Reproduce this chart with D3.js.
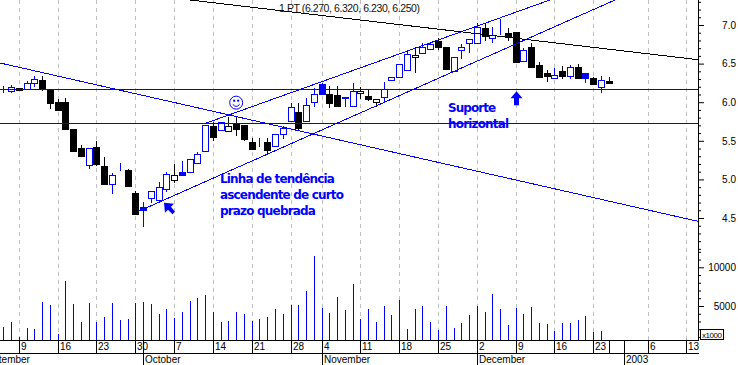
<!DOCTYPE html>
<html>
<head>
<meta charset="utf-8">
<script src="https://cdnjs.cloudflare.com/ajax/libs/d3/7.8.5/d3.min.js"></script>
<style>
  html, body { margin: 0; padding: 0; background: #fff; }
  svg { display: block; font-family: "Liberation Sans", Arial, sans-serif; }
  .note { font-family: "DejaVu Sans", sans-serif; font-weight: bold; font-size: 12px; fill: #0000ff; }
</style>
</head>
<body>
<div id="chart"></div>
<script>
var width = 738, height = 365;

// one entry per trading day
var opens = [6.193,6.149,6.180,6.167,6.245,6.288,6.158,6.003,6.003,5.653,5.403,5.178,5.420,5.174,4.937,5.122,5.122,4.820,4.643,4.755,
  4.724,4.872,4.989,5.096,5.105,5.222,5.364,5.692,5.649,5.631,5.735,5.705,5.485,5.450,5.485,5.424,5.588,5.748,5.873,5.748,
  5.994,6.236,6.106,6.090,6.071,5.960,6.110,6.080,5.994,6.064,6.279,6.323,6.408,6.582,6.641,6.693,6.793,6.711,6.400,6.667,
  6.763,6.763,6.961,6.841,6.875,6.893,6.906,6.530,6.711,6.486,6.375,6.305,6.400,6.340,6.452,6.375,6.310,6.193,6.270];
var highs = [6.210,6.223,6.184,6.279,6.340,6.340,6.167,6.038,6.059,5.653,5.446,5.403,5.498,5.286,5.087,5.209,5.131,4.850,4.711,4.846,
  4.970,5.100,5.200,5.239,5.268,5.359,5.701,5.748,5.748,5.805,5.805,5.705,5.533,5.533,5.533,5.584,5.692,5.986,5.994,6.059,
  6.180,6.253,6.210,6.210,6.071,6.245,6.193,6.158,6.038,6.258,6.323,6.495,6.676,6.719,6.763,6.784,6.828,6.711,6.582,6.754,
  6.815,7.022,7.022,6.978,7.074,6.957,6.906,6.698,6.763,6.517,6.417,6.439,6.469,6.478,6.495,6.375,6.331,6.340,6.320];
var lows = [6.123,6.115,6.145,6.167,6.201,6.149,5.912,5.899,5.640,5.372,5.303,5.135,5.178,4.941,4.811,5.109,4.902,4.543,4.388,4.698,
  4.724,4.841,4.954,5.057,5.105,5.200,5.364,5.501,5.649,5.631,5.562,5.501,5.398,5.416,5.316,5.424,5.527,5.748,5.631,5.748,
  5.942,6.110,5.929,5.951,5.942,5.960,6.046,6.020,5.942,5.994,6.279,6.323,6.408,6.382,6.634,6.676,6.676,6.426,6.400,6.556,
  6.634,6.763,6.797,6.763,6.871,6.789,6.512,6.530,6.447,6.331,6.266,6.297,6.305,6.305,6.305,6.253,6.227,6.123,6.230];
var closes = [6.193,6.201,6.154,6.245,6.297,6.171,5.994,5.899,5.649,5.372,5.303,5.403,5.200,4.941,5.057,5.122,4.915,4.543,4.604,4.846,
  4.898,5.066,5.053,5.057,5.268,5.333,5.701,5.553,5.748,5.696,5.653,5.527,5.398,5.450,5.381,5.584,5.662,5.934,5.666,5.960,
  6.103,6.110,5.986,5.951,6.055,6.149,6.141,6.046,6.038,6.167,6.323,6.495,6.621,6.612,6.719,6.754,6.711,6.426,6.582,6.711,
  6.815,6.970,6.858,6.875,6.875,6.836,6.521,6.676,6.447,6.331,6.331,6.349,6.340,6.460,6.305,6.314,6.227,6.284,6.250];
var volumes = [2290,2930,990,2160,2030,5520,5130,1380,8230,5260,2930,5390,2930,3580,5390,3190,3320,5390,5520,5260,
  3970,4610,3450,4220,5650,6030,6420,4220,2930,3060,4220,3970,3060,3320,3580,4610,3970,5130,5130,6940,
  11460,4740,4100,6160,4480,7840,3320,4610,2930,5000,3840,5780,2030,4610,5000,2930,1900,5000,2160,2800,
  3840,5000,4220,6550,4610,2540,4740,3970,4870,2800,2670,1770,2800,2800,3190,3710,1680,1770];

// days drawn in the other colour combinations
var hollowBlack = [22,29,46,48,53];
var solidBlue = [0,15,18,23,33,41,44,64,75];

var weekDays = [2,7,12,17,22,27,32,37,41,46,51,56,61,66,71,76,78,83,88];
var weekLabels = ["9","16","23","30","7","14","21","28","4","11","18","25","2","9","16","23","","6","13"];
var monthDays = [-3.1,18,41,61,80];
var monthLabels = ["September","October","November","December","2003"];

var priceMajor = [4.5,5,5.5,6,6.5,7];
var priceMinor = [4.1,4.2,4.3,4.4,4.6,4.7,4.8,4.9,5.1,5.2,5.3,5.4,5.6,5.7,5.8,5.9,6.1,6.2,6.3,6.4,6.6,6.7,6.8,6.9,7.1,7.2,7.3];
var volumeMajor = [5000,10000];
var volumeMinor = [1000,2000,3000,4000,6000,7000,8000,9000,11000,12000];

var supportLevels = [6.167,5.734];
var lastDay = 89.49, firstDay = -0.425;
var blueTrends = [
  [[firstDay,6.508],[lastDay,4.457]],
  [[25.98,5.724],[70.42,7.324]],
  [[17.22,4.578],[78.8,7.324]]
];
var blackTrend = [[24.05,7.324],[lastDay,6.551]];

var title = "1 PT (6.270, 6.320, 6.230, 6.250)";
var notes = [
  {text: "Linha de tendência", day: 27.91, price: 4.95, len: 115},
  {text: "ascendente de curto", day: 27.91, price: 4.743, len: 124},
  {text: "prazo quebrada", day: 27.91, price: 4.536, len: 96},
  {text: "Suporte", day: 57.3, price: 5.877, len: 48},
  {text: "horizontal", day: 57.3, price: 5.662, len: 61}
];

var x = d3.scaleLinear().domain([0,88]).range([3.3,686.4]);
var y = d3.scaleLinear().domain([4.5,7]).range([218,25]);
var yVol = d3.scaleLinear().domain([5000,10000]).range([306,267.3]);

var axisX = Math.round(x(lastDay));
var baseY = 340, midY = 353;
var blue = "#0000ff";

var svg = d3.select("#chart").append("svg")
    .attr("width", width)
    .attr("height", height);

// dashed week lines
svg.selectAll(".grid")
    .data(weekDays.filter(function(d) { return d != 78; }))
    .enter().append("line")
    .attr("x1", function(d) { return Math.round(x(d)) + .5; })
    .attr("x2", function(d) { return Math.round(x(d)) + .5; })
    .attr("y1", 0)
    .attr("y2", baseY)
    .attr("stroke", "#c0c0c0")
    .attr("stroke-dasharray", "4,4")
    .attr("shape-rendering", "crispEdges");

// volume
svg.selectAll(".vol")
    .data(volumes)
    .enter().append("line")
    .attr("x1", function(d, i) { return Math.round(x(i)) + .5; })
    .attr("x2", function(d, i) { return Math.round(x(i)) + .5; })
    .attr("y1", baseY)
    .attr("y2", function(d) { return yVol(d); })
    .attr("stroke", blue)
    .attr("shape-rendering", "crispEdges");

// candles
var days = d3.range(opens.length);
function candleColor(i) {
  if (solidBlue.indexOf(i) >= 0) return blue;
  if (hollowBlack.indexOf(i) >= 0) return "#000";
  return closes[i] > opens[i] ? blue : "#000";
}
function isHollow(i) {
  return closes[i] > opens[i] && solidBlue.indexOf(i) < 0;
}

var candle = svg.selectAll(".candle")
    .data(days)
    .enter().append("g")
    .attr("shape-rendering", "crispEdges");

candle.append("line")
    .attr("x1", function(i) { return Math.round(x(i)) + .5; })
    .attr("x2", function(i) { return Math.round(x(i)) + .5; })
    .attr("y1", function(i) { return y(highs[i]); })
    .attr("y2", function(i) { return y(lows[i]); })
    .attr("stroke", candleColor);

candle.append("rect")
    .attr("x", function(i) { return Math.round(x(i)) - 3 + .5; })
    .attr("width", 6)
    .attr("y", function(i) { return Math.round(y(Math.max(opens[i], closes[i]))) + .5; })
    .attr("height", function(i) { return Math.round(Math.abs(y(opens[i]) - y(closes[i]))); })
    .attr("fill", function(i) { return isHollow(i) ? "#fff" : candleColor(i); })
    .attr("stroke", candleColor);

// trend and support lines
var line = d3.line()
    .x(function(d) { return x(d[0]); })
    .y(function(d) { return y(d[1]); });

svg.selectAll(".trend")
    .data(blueTrends)
    .enter().append("path")
    .attr("d", line)
    .attr("fill", "none")
    .attr("stroke", blue)
    .attr("shape-rendering", "crispEdges");

svg.append("path")
    .datum(blackTrend)
    .attr("d", line)
    .attr("fill", "none")
    .attr("stroke", "#000")
    .attr("shape-rendering", "crispEdges");

svg.selectAll(".support")
    .data(supportLevels)
    .enter().append("line")
    .attr("x1", 0)
    .attr("x2", axisX)
    .attr("y1", function(d) { return Math.round(y(d)) + .5; })
    .attr("y2", function(d) { return Math.round(y(d)) + .5; })
    .attr("stroke", blue)
    .attr("stroke-width", 1.5)
    .attr("shape-rendering", "crispEdges");

// title
svg.append("text")
    .attr("x", 279)
    .attr("y", 12)
    .attr("font-size", 10.5)
    .attr("textLength", 141)
    .attr("fill", "#111")
    .text(title);

// notes
svg.selectAll(".note")
    .data(notes)
    .enter().append("text")
    .attr("class", "note")
    .attr("x", function(d) { return x(d.day); })
    .attr("y", function(d) { return y(d.price); })
    .attr("textLength", function(d) { return d.len; })
    .text(function(d) { return d.text; });

// smiley on the top of the channel
var smile = svg.append("g")
    .attr("transform", "translate(" + x(30) + "," + y(5.994) + ")")
    .attr("fill", "none")
    .attr("stroke", blue);
smile.append("circle").attr("r", 6.5);
smile.append("path").attr("d", "M-3.5,1.5Q0,6 3.5,1.5");
smile.append("rect").attr("x", -3).attr("y", -3).attr("width", 2).attr("height", 2).attr("fill", blue).attr("stroke", "none");
smile.append("rect").attr("x", 1).attr("y", -3).attr("width", 2).attr("height", 2).attr("fill", blue).attr("stroke", "none");

// arrows
svg.append("path")
    .attr("transform", "translate(" + x(20.7) + "," + y(4.698) + ")")
    .attr("d", "M0,0L10,1L7,4L11,9L8.5,11.5L4,7L1,10Z")
    .attr("fill", blue);
svg.append("path")
    .attr("transform", "translate(" + Math.round(x(66)) + "," + y(6.141) + ")")
    .attr("d", "M0.5,0L6.5,7L3,7L3,14L-2,14L-2,7L-5.5,7Z")
    .attr("fill", blue);

// right axis
var ax = svg.append("g").attr("transform", "translate(" + axisX + ",0)");
ax.append("line")
    .attr("x1", .5).attr("x2", .5)
    .attr("y1", 0).attr("y2", baseY + 1)
    .attr("stroke", "#000");

ax.append("g")
    .call(d3.axisRight(y).tickValues(priceMinor).tickSize(3).tickFormat(""))
    .call(function(g) { g.select(".domain").remove(); });
ax.append("g")
    .call(d3.axisRight(y).tickValues(priceMajor).tickSize(6).tickFormat(d3.format(".1f")))
    .call(function(g) { g.select(".domain").remove(); });
ax.append("g")
    .call(d3.axisRight(yVol).tickValues(volumeMinor).tickSize(3).tickFormat(""))
    .call(function(g) { g.select(".domain").remove(); });
ax.append("g")
    .call(d3.axisRight(yVol).tickValues(volumeMajor).tickSize(6).tickFormat(d3.format("d")))
    .call(function(g) { g.select(".domain").remove(); });

ax.selectAll("text")
    .attr("x", 38)
    .attr("text-anchor", "end")
    .attr("font-family", "Liberation Sans")
    .attr("font-size", 10)
    .attr("fill", "#000");

// x1000 box
svg.append("rect")
    .attr("x", 700.5).attr("y", 329.5)
    .attr("width", 23).attr("height", 10)
    .attr("fill", "#fff")
    .attr("stroke", "#000")
    .attr("shape-rendering", "crispEdges");
svg.append("text")
    .attr("x", 702).attr("y", 338)
    .attr("font-size", 8)
    .attr("textLength", 20)
    .text("x1000");

// bottom axis
svg.append("line")
    .attr("x1", 0).attr("x2", axisX + 1)
    .attr("y1", baseY + .5).attr("y2", baseY + .5)
    .attr("stroke", "#000");
svg.append("line")
    .attr("x1", 0).attr("x2", axisX + 1)
    .attr("y1", midY + .5).attr("y2", midY + .5)
    .attr("stroke", "#000");

svg.selectAll(".wtick")
    .data(weekDays)
    .enter().append("line")
    .attr("x1", function(d) { return Math.round(x(d)) + .5; })
    .attr("x2", function(d) { return Math.round(x(d)) + .5; })
    .attr("y1", baseY)
    .attr("y2", midY)
    .attr("stroke", "#000");

svg.selectAll(".wlabel")
    .data(weekLabels)
    .enter().append("text")
    .attr("x", function(d, i) { return Math.round(x(weekDays[i])) + 2; })
    .attr("y", 350)
    .attr("font-size", 10)
    .text(function(d) { return d; });

svg.selectAll(".mtick")
    .data(monthDays.slice(1))
    .enter().append("line")
    .attr("x1", function(d) { return Math.round(x(d)) + .5; })
    .attr("x2", function(d) { return Math.round(x(d)) + .5; })
    .attr("y1", baseY)
    .attr("y2", height)
    .attr("stroke", "#000");

svg.selectAll(".mlabel")
    .data(monthLabels)
    .enter().append("text")
    .attr("x", function(d, i) { return Math.round(x(monthDays[i])) + 2; })
    .attr("y", 362.5)
    .attr("font-size", 10)
    .text(function(d) { return d; });
</script>
</body>
</html>
